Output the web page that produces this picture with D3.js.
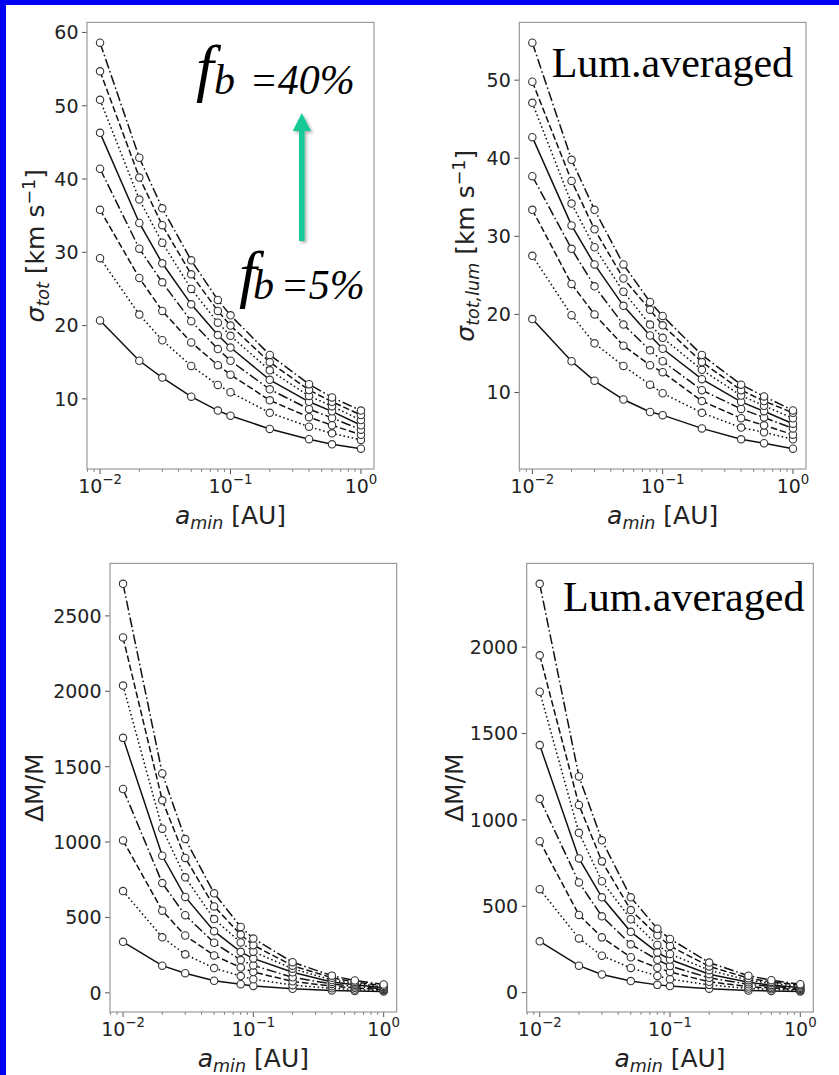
<!DOCTYPE html>
<html>
<head>
<meta charset="utf-8">
<script src="https://cdn.jsdelivr.net/npm/d3@7"></script>
<style>
  html, body { margin: 0; padding: 0; background: #fff; }
  svg { display: block; }
</style>
</head>
<body>
<script>
// a_min values [AU] shared by every curve
const amin = [0.01, 0.02, 0.03, 0.05, 0.08, 0.1, 0.2, 0.4, 0.6, 1.0];
// binary fractions, one curve each, and their line styles
const fb = [5, 10, 15, 20, 25, 30, 35, 40];
const lineStyles = ["solid", "dotted", "dashed", "dashdot", "solid", "dotted", "dashed", "dashdot"];

// sigma_tot [km/s], one row per fb
const sigmaTot = [
    [20.7, 15.2, 12.9, 10.3, 8.4, 7.7, 5.9, 4.5, 3.8, 3.2],
    [29.2, 21.5, 18.0, 14.5, 11.9, 10.9, 8.1, 6.2, 5.3, 4.4],
    [35.8, 26.5, 22.0, 17.7, 14.6, 13.3, 9.8, 7.5, 6.4, 5.1],
    [41.4, 30.5, 25.9, 20.6, 16.8, 15.2, 11.3, 8.6, 7.4, 5.8],
    [46.3, 34.0, 28.5, 22.9, 18.7, 17.0, 12.6, 9.6, 8.3, 6.4],
    [50.8, 37.2, 31.3, 25.0, 20.4, 18.6, 13.9, 10.4, 9.0, 7.1],
    [54.7, 40.2, 33.7, 27.0, 22.0, 20.0, 15.0, 11.2, 9.6, 7.8],
    [58.6, 42.9, 36.0, 28.9, 23.5, 21.4, 16.0, 12.0, 10.2, 8.4]
];
// luminosity averaged sigma
const sigmaLum = [
    [19.4, 14.0, 11.5, 9.1, 7.5, 7.1, 5.4, 4.0, 3.5, 2.8],
    [27.5, 19.9, 16.3, 13.4, 11.0, 9.9, 7.4, 5.5, 4.9, 4.0],
    [33.4, 23.9, 20.0, 16.0, 13.5, 12.6, 8.9, 6.7, 5.8, 4.6],
    [37.7, 28.4, 23.6, 18.7, 15.4, 14.0, 10.3, 7.9, 6.8, 5.4],
    [42.7, 31.4, 26.4, 21.1, 17.3, 15.6, 11.7, 8.8, 7.6, 6.0],
    [47.1, 34.2, 28.6, 22.9, 18.7, 17.0, 12.9, 9.6, 8.3, 6.7],
    [49.8, 37.1, 30.9, 24.6, 20.6, 18.6, 13.9, 10.3, 8.9, 7.4],
    [54.8, 39.8, 33.4, 26.4, 21.6, 19.8, 14.8, 11.0, 9.5, 7.7]
];
// dM/M
const dmTot = [
    [338, 180, 130, 80, 57, 46, 27, 16, 12, 8],
    [675, 368, 255, 164, 111, 90, 51, 30, 22, 15],
    [1011, 545, 380, 248, 168, 138, 76, 44, 33, 21],
    [1352, 728, 515, 332, 217, 182, 103, 59, 43, 26],
    [1691, 909, 636, 409, 272, 227, 136, 72, 53, 33],
    [2038, 1089, 766, 489, 334, 273, 160, 85, 62, 39],
    [2357, 1277, 895, 573, 386, 316, 180, 100, 72, 47],
    [2713, 1455, 1020, 660, 437, 360, 203, 114, 82, 55]
];
// dM/M, luminosity averaged
const dmLum = [
    [297, 156, 105, 67, 45, 38, 23, 12, 10, 6],
    [599, 314, 214, 143, 97, 78, 45, 24, 19, 12],
    [877, 450, 320, 205, 144, 120, 63, 35, 27, 17],
    [1122, 638, 442, 280, 190, 154, 86, 48, 36, 23],
    [1433, 777, 552, 352, 233, 192, 107, 60, 44, 28],
    [1742, 925, 645, 425, 276, 224, 130, 72, 55, 35],
    [1953, 1087, 760, 478, 332, 270, 152, 84, 62, 43],
    [2367, 1252, 882, 552, 370, 311, 174, 98, 72, 49]
];

const yTicksSigmaTot = [10, 20, 30, 40, 50, 60];
const yTicksSigmaLum = [10, 20, 30, 40, 50];
const yTicksDmTot = [0, 500, 1000, 1500, 2000, 2500];
const yTicksDmLum = [0, 500, 1000, 1500, 2000];
const xTicksMajor = [0.01, 0.1, 1];
const xTickExp = ["\u22122", "\u22121", "0"];

const width = 839;
const height = 1075;
const axisFont = "'DejaVu Sans', sans-serif";
const serifFont = "'Liberation Serif', 'Times New Roman', serif";
const tickSize = 19;
const labelSize = 25;

const svg = d3.select("body")
    .append("svg")
    .attr("width", width)
    .attr("height", height);

svg.append("rect")
    .attr("width", width)
    .attr("height", height)
    .attr("fill", "#fff");
// blue slide frame, top and left
svg.append("rect").attr("x", 0).attr("y", 0).attr("width", width).attr("height", 5).attr("fill", "#0000f0");
svg.append("rect").attr("x", 0).attr("y", 0).attr("width", 6).attr("height", height).attr("fill", "#0000f0");

const dashes = {
    solid: null,
    dotted: "1.6,2.6",
    dashed: "6.5,2.8",
    dashdot: "10,2.8,1.6,2.8"
};

function sigmaLabel(t, sub) {
    t.append("tspan").attr("font-style", "italic").text("\u03c3");
    t.append("tspan").attr("font-style", "italic").attr("font-size", labelSize * 0.7)
        .attr("dy", 5).text(sub);
    t.append("tspan").attr("dy", -5).text(" [km s");
    t.append("tspan").attr("font-size", labelSize * 0.7).attr("dy", -9).text("\u22121");
    t.append("tspan").attr("dy", 9).text("]");
}

function dmLabel(t) {
    t.text("\u0394M/M");
}

const panels = [
    { left: 87, top: 22.4, right: 374, bottom: 469, data: sigmaTot, yTicks: yTicksSigmaTot,
      ylabelX: 44, ylabel: t => sigmaLabel(t, "tot") },
    { left: 519.3, top: 22.4, right: 806, bottom: 469, data: sigmaLum, yTicks: yTicksSigmaLum,
      ylabelX: 473.5, ylabel: t => sigmaLabel(t, "tot,lum") },
    { left: 110, top: 563.4, right: 396.7, bottom: 1012, data: dmTot, yTicks: yTicksDmTot,
      ylabelX: 42.5, ylabel: dmLabel },
    { left: 526.7, top: 563.4, right: 813.3, bottom: 1012, data: dmLum, yTicks: yTicksDmLum,
      ylabelX: 463, ylabel: dmLabel }
];

panels.forEach(p => {
    const g = svg.append("g");

    const logExt = d3.extent(amin).map(Math.log10);
    const lpad = (logExt[1] - logExt[0]) * 0.05;
    const x = d3.scaleLog()
        .domain([Math.pow(10, logExt[0] - lpad), Math.pow(10, logExt[1] + lpad)])
        .range([p.left, p.right]);

    const yExt = d3.extent(p.data.flat());
    const ypad = (yExt[1] - yExt[0]) * 0.05;
    const y = d3.scaleLinear()
        .domain([yExt[0] - ypad, yExt[1] + ypad])
        .range([p.bottom, p.top]);

    // minor x ticks
    const minor = [];
    [-3, -2, -1].forEach(k => {
        for (let m = 2; m <= 9; m++) {
            const v = m * Math.pow(10, k);
            if (v >= x.domain()[0] && v <= x.domain()[1]) minor.push(v);
        }
    });
    g.selectAll("line.minor")
        .data(minor)
        .join("line")
        .attr("class", "minor")
        .attr("x1", d => x(d)).attr("x2", d => x(d))
        .attr("y1", p.bottom).attr("y2", p.bottom + 2.8)
        .attr("stroke", "#555").attr("stroke-width", 0.8);

    g.selectAll("line.xmajor")
        .data(xTicksMajor)
        .join("line")
        .attr("class", "xmajor")
        .attr("x1", d => x(d)).attr("x2", d => x(d))
        .attr("y1", p.bottom).attr("y2", p.bottom + 5)
        .attr("stroke", "#555").attr("stroke-width", 1);

    const xl = g.selectAll("text.xtick")
        .data(xTicksMajor)
        .join("text")
        .attr("class", "xtick")
        .attr("x", d => x(d))
        .attr("y", p.bottom + 24)
        .attr("text-anchor", "middle")
        .attr("font-family", axisFont)
        .attr("font-size", tickSize)
        .attr("fill", "#222");
    xl.append("tspan").text("10");
    xl.append("tspan").attr("font-size", tickSize * 0.7).attr("dy", -9).text((d, i) => xTickExp[i]);

    g.selectAll("line.ytick")
        .data(p.yTicks)
        .join("line")
        .attr("class", "ytick")
        .attr("x1", p.left - 5).attr("x2", p.left)
        .attr("y1", d => y(d)).attr("y2", d => y(d))
        .attr("stroke", "#555").attr("stroke-width", 1);

    g.selectAll("text.ytick")
        .data(p.yTicks)
        .join("text")
        .attr("class", "ytick")
        .attr("x", p.left - 8.5)
        .attr("y", d => y(d))
        .attr("dy", "0.36em")
        .attr("text-anchor", "end")
        .attr("font-family", axisFont)
        .attr("font-size", tickSize)
        .attr("fill", "#222")
        .text(d => d);

    // axis labels
    const xlab = g.append("text")
        .attr("x", (p.left + p.right) / 2)
        .attr("y", p.bottom + 55)
        .attr("text-anchor", "middle")
        .attr("font-family", axisFont)
        .attr("font-size", labelSize)
        .attr("fill", "#222");
    xlab.append("tspan").attr("font-style", "italic").text("a");
    xlab.append("tspan").attr("font-style", "italic").attr("font-size", labelSize * 0.7).attr("dy", 5).text("min");
    xlab.append("tspan").attr("dy", -5).text(" [AU]");

    const ylab = g.append("text")
        .attr("transform", `translate(${p.ylabelX},${(p.top + p.bottom) / 2}) rotate(-90)`)
        .attr("text-anchor", "middle")
        .attr("font-family", axisFont)
        .attr("font-size", labelSize)
        .attr("fill", "#222");
    p.ylabel(ylab);

    // curves, line then markers for each series
    const line = d3.line()
        .x((d, i) => x(amin[i]))
        .y(d => y(d));
    p.data.forEach((row, k) => {
        const s = g.append("g").attr("class", `fb${fb[k]}`);
        s.append("path")
            .attr("d", line(row))
            .attr("fill", "none")
            .attr("stroke", "#111")
            .attr("stroke-width", 1.5)
            .attr("stroke-dasharray", dashes[lineStyles[k]]);
        s.selectAll("circle")
            .data(row)
            .join("circle")
            .attr("cx", (d, i) => x(amin[i]))
            .attr("cy", d => y(d))
            .attr("r", 3.7)
            .attr("fill", "#fff")
            .attr("stroke", "#333")
            .attr("stroke-width", 1.1);
    });

    g.append("rect")
        .attr("x", p.left).attr("y", p.top)
        .attr("width", p.right - p.left).attr("height", p.bottom - p.top)
        .attr("fill", "none")
        .attr("stroke", "#999")
        .attr("stroke-width", 1.2);
});

// annotations laid over the slide
const defs = svg.append("defs");
defs.append("filter").attr("id", "shadow")
    .attr("x", "-50%").attr("y", "-20%").attr("width", "200%").attr("height", "140%")
    .append("feDropShadow")
    .attr("dx", 2).attr("dy", 2).attr("stdDeviation", 1.8)
    .attr("flood-color", "#000").attr("flood-opacity", 0.3);

svg.append("path")
    .attr("d", "M299,241 L299,131 L292.7,131 L301.8,113 L311,131 L304.6,131 L304.6,241 Z")
    .attr("fill", "#19c996")
    .attr("filter", "url(#shadow)");

// f_b labels: one text each, big f then b and the value
function fbLabel(fx, fy, bx, by, ex, text) {
    const t = svg.append("text")
        .attr("font-family", serifFont).attr("font-style", "italic")
        .attr("fill", "#000");
    t.append("tspan").attr("x", fx).attr("y", fy).attr("font-size", 64).text("f");
    t.append("tspan").attr("x", bx).attr("y", by).attr("font-size", 42).text("b");
    t.append("tspan").attr("x", ex).attr("y", by).attr("font-size", 42).text(text);
}
fbLabel(196, 88.5, 214, 93.7, 249.5, "=40%");
fbLabel(239, 294.8, 253, 299, 280.5, "=5%");

svg.append("text")
    .attr("x", 551.7).attr("y", 76.7)
    .attr("font-family", serifFont).attr("font-size", 42).attr("fill", "#000")
    .text("Lum.averaged");
svg.append("text")
    .attr("x", 563).attr("y", 611)
    .attr("font-family", serifFont).attr("font-size", 42).attr("fill", "#000")
    .text("Lum.averaged");
</script>
</body>
</html>
